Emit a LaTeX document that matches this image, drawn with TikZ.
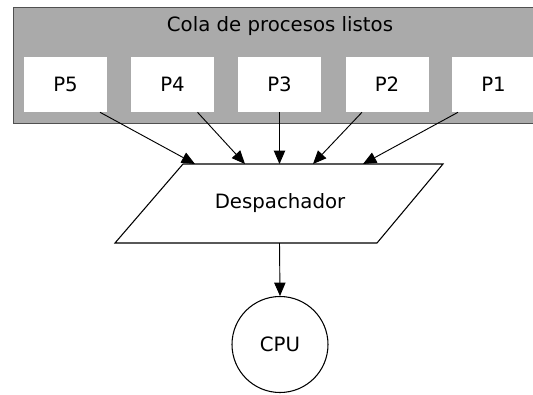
\documentclass[tikz,border=0pt]{standalone}
\usepackage{fontspec}
\setmainfont{DejaVu Sans}
\usetikzlibrary{arrows.meta,calc}
\definecolor{qgray}{RGB}{170,170,170}
\definecolor{qborder}{RGB}{80,80,80}
\begin{document}
\begin{tikzpicture}[x=0.75pt,y=-0.75pt,
  lbl/.style={font=\fontsize{14.8}{17}\selectfont},
  proc/.style={lbl, fill=white, minimum width=62.25pt, minimum height=41.25pt, inner sep=0pt},
  conn/.style={draw=black, line width=0.7pt, -{Triangle[length=10pt,width=8.5pt]}},
  shp/.style={draw=black, line width=0.8pt, fill=white}]
\useasboundingbox (0,0) rectangle (533,394);
\begin{scope}
\clip (0,0) rectangle (533,394);
\node[draw=qborder, fill=qgray, line width=1.1pt, minimum width=399pt, minimum height=87pt, inner sep=0pt, anchor=north west] (queue) at (13,7) {};
\node[lbl] (title) at (280,26) {Cola de procesos listos};
\node[proc] (p5) at (65.5,84.5) {P5};
\node[proc] (p4) at (172.5,84.5) {P4};
\node[proc] (p3) at (279.5,84.5) {P3};
\node[proc] (p2) at (387,84.5) {P2};
\node[proc] (p1) at (493.5,84.5) {P1};
\end{scope}
% dispatcher parallelogram
\coordinate (tl) at (183,164);
\coordinate (tr) at (443,164);
\coordinate (br) at (377,243);
\coordinate (bl) at (115,243);
\draw[shp] (tl) -- (tr) -- (br) -- (bl) -- cycle;
\node[lbl] (desp) at (280,203) {Despachador};
\coordinate (e5) at (195,164);
\coordinate (e4) at (245,164);
\coordinate (e3) at (279.5,164);
\coordinate (e2) at (313,164);
\coordinate (e1) at (363,164);
\coordinate (db) at (279.5,243);
\node[shp, lbl, circle, minimum size=72pt, inner sep=0pt] (cpu) at (280,344.5) {CPU};
\draw[conn] ($(p5.south)+(34.5,0)$) -- (e5);
\draw[conn] ($(p4.south)+(25,0)$) -- (e4);
\draw[conn] (p3.south) -- (e3);
\draw[conn] ($(p2.south)+(-25,0)$) -- (e2);
\draw[conn] ($(p1.south)+(-35.5,0)$) -- (e1);
\draw[conn] (db) -- (cpu.north);
\end{tikzpicture}
\end{document}
